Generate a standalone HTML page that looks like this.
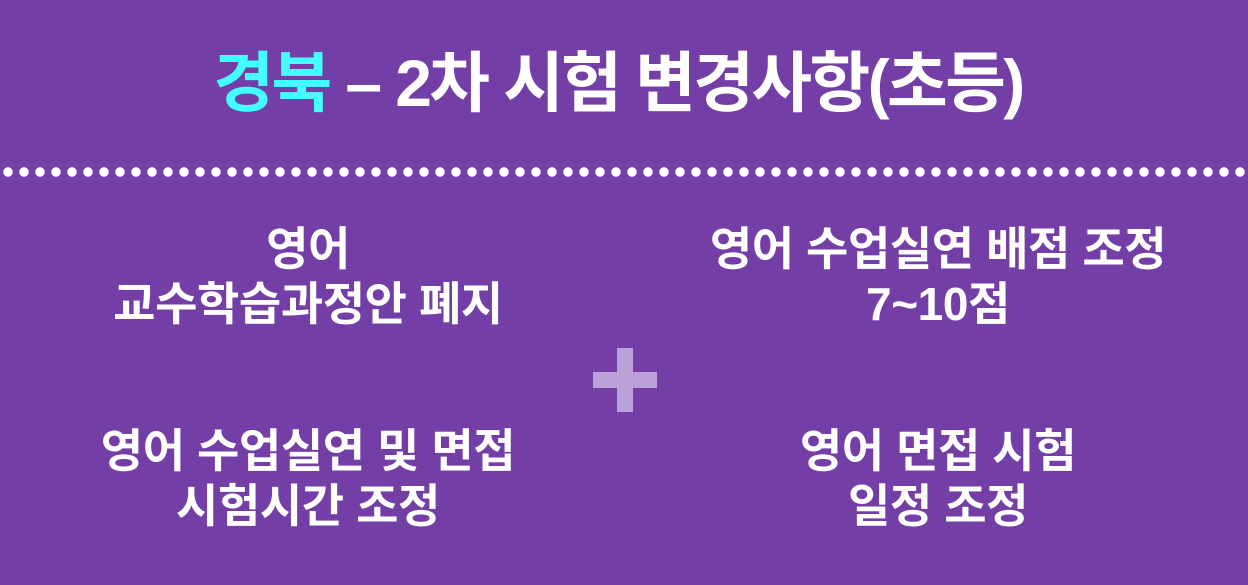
<!DOCTYPE html>
<html><head><meta charset="utf-8"><style>
html,body{margin:0;padding:0}
body{width:1248px;height:585px;background:#733fa7;position:relative;overflow:hidden;font-family:"Liberation Sans","Noto Sans CJK KR",sans-serif;color:#fff;font-weight:bold}
.title{position:absolute;left:0;width:1236px;top:38px;text-align:center;font-size:66px;letter-spacing:-2.6px;line-height:90px}
.title span{color:#44ffff}
.dots{position:absolute;left:3px;top:167px;width:1245px;height:10px;background:radial-gradient(circle at 5px 5px,#fff 4.5px,transparent 5px) 0 0/16px 10px repeat-x}
.b{position:absolute;width:620px;text-align:center;font-size:46px;line-height:55px;letter-spacing:-0.4px}
.v{position:absolute;left:617px;top:348px;width:16px;height:64px;background:#bca0d8}
.h{position:absolute;left:593px;top:372px;width:64px;height:16px;background:#bca0d8}
</style></head><body>
<div class="title"><span>경북</span> – 2차 시험 변경사항(초등)</div>
<div class="dots"></div>
<div class="b" style="left:-2px;top:222px">영어<br>교수학습과정안 폐지</div>
<div class="b" style="left:628px;top:222px">영어 수업실연 배점 조정<br>7~10점</div>
<div class="b" style="left:-2px;top:424px">영어 수업실연 및 면접<br>시험시간 조정</div>
<div class="b" style="left:628px;top:424px">영어 면접 시험<br>일정 조정</div>
<div class="v"></div><div class="h"></div>
</body></html>
